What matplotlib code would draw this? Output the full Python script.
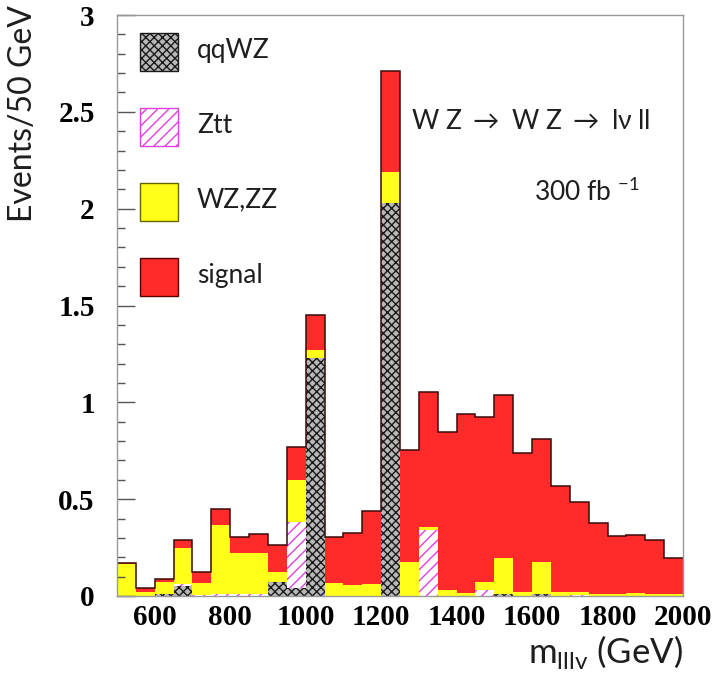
import numpy as np
import matplotlib
matplotlib.use("Agg")
import matplotlib.pyplot as plt
from matplotlib.patches import Rectangle
from matplotlib.ticker import MultipleLocator, FuncFormatter

plt.rcParams['hatch.linewidth'] = 1.0
plt.rcParams['mathtext.fontset'] = 'custom'
plt.rcParams['mathtext.rm'] = 'Lato'

# histogram binning: 50 GeV bins from 500 to 2000 GeV
bin_lo = np.arange(500, 2000, 50)
bin_w  = 50

# stacked contributions, events / 50 GeV
qqwz = [0, 0, 0.01, 0.05, 0, 0, 0, 0, 0.07, 0.04,
        1.23, 0, 0, 0, 2.03, 0, 0, 0, 0, 0,
        0.01, 0, 0.01, 0, 0, 0, 0, 0, 0, 0]
ztt = [0, 0, 0, 0.01, 0.005, 0.01, 0.01, 0.01, 0, 0.34,
       0, 0, 0, 0, 0, 0, 0.34, 0, 0, 0.03,
       0, 0, 0, 0, 0.005, 0, 0, 0, 0, 0]
wzzz = [0.165, 0.02, 0.06, 0.186, 0.06, 0.357, 0.21, 0.21, 0.055, 0.22,
        0.04, 0.065, 0.057, 0.06, 0.16, 0.177, 0.018, 0.03, 0.015, 0.044,
        0.185, 0.02, 0.167, 0.02, 0.015, 0.01, 0.01, 0.015, 0.01, 0.01]
signal = [0.005, 0.02, 0.02, 0.044, 0.06, 0.081, 0.086, 0.10, 0.138, 0.17,
          0.18, 0.241, 0.27, 0.379, 0.52, 0.577, 0.697, 0.818, 0.923, 0.852,
          0.843, 0.72, 0.632, 0.548, 0.467, 0.368, 0.30, 0.298, 0.279, 0.185]

labels = ["qqWZ", "Ztt", "WZ,ZZ", "signal"]

RED    = "#ff2a2a"
YELLOW = "#ffff1a"
PINK   = "#e040e0"
CHECK_FACE = "#b8b8b8"
CHECK_EDGE = "#1a1a1a"
TXT = "#1e1e1e"

qqwz, ztt, wzzz, signal = map(np.array, (qqwz, ztt, wzzz, signal))
edges = np.append(bin_lo, bin_lo[-1] + bin_w)

fig = plt.figure(figsize=(7.27, 6.75), dpi=100)
ax = fig.add_axes([117/727, 1 - 596/675, (683 - 117)/727, (596 - 15)/675])

# stacked bars: qqWZ, Ztt, WZ/ZZ, signal
b0 = np.zeros_like(qqwz)
ax.bar(bin_lo, qqwz, width=bin_w, bottom=b0, align="edge",
       facecolor=CHECK_FACE, edgecolor=CHECK_EDGE, hatch="xxxx", linewidth=0)
b1 = b0 + qqwz
ax.bar(bin_lo, ztt, width=bin_w, bottom=b1, align="edge",
       facecolor="white", edgecolor=PINK, hatch="///", linewidth=0)
b2 = b1 + ztt
ax.bar(bin_lo, wzzz, width=bin_w, bottom=b2, align="edge",
       color=YELLOW, linewidth=0)
b3 = b2 + wzzz
ax.bar(bin_lo, signal, width=bin_w, bottom=b3, align="edge",
       color=RED, linewidth=0)
total = b3 + signal

# outline of the full stack
ax.stairs(total, edges, color="#3a0a0a", linewidth=1.1, baseline=None)

ax.set_xlim(500, 2000)
ax.set_ylim(0, 3)

ax.yaxis.set_major_locator(MultipleLocator(0.5))
ax.yaxis.set_minor_locator(MultipleLocator(0.1))
ax.yaxis.set_major_formatter(FuncFormatter(lambda v, p: f"{v:g}"))
ax.xaxis.set_major_locator(MultipleLocator(200))
ax.tick_params(axis="y", which="major", direction="in", length=13, width=1,
               color="#555555", pad=16)
ax.tick_params(axis="y", which="minor", direction="in", length=6, width=1,
               color="#555555")
ax.tick_params(axis="x", which="major", length=0, pad=6)
for lab in ax.get_xticklabels() + ax.get_yticklabels():
    lab.set_fontfamily("Liberation Serif")
    lab.set_fontweight("bold")
    lab.set_fontsize(21)
for sp in ax.spines.values():
    sp.set_color("#999999")
    sp.set_linewidth(1)

sans = ["Lato", "DejaVu Sans"]
fig.text(23/727, 1 - 114/675, "Events/50 GeV", rotation=90, ha="center",
         va="center", fontsize=23, family=sans, color=TXT)
fig.text(683/727, 1 - 652/675, r"m$_{\mathrm{lllv}}$ (GeV)", ha="right",
         va="center", fontsize=25, family=sans, color=TXT)

# legend boxes drawn by hand
styles = [dict(facecolor=CHECK_FACE, edgecolor=CHECK_EDGE, hatch="xxxx"),
          dict(facecolor="white", edgecolor=PINK, hatch="///"),
          dict(facecolor=YELLOW, edgecolor="#666600"),
          dict(facecolor=RED, edgecolor="#550000")]
box_top = [33, 108, 183, 258]
for lab, st, yt in zip(labels, styles, box_top):
    x0 = (140 - 117) / 566 * 1500 + 500
    x1 = (178 - 117) / 566 * 1500 + 500
    y1 = (596 - yt) / 193.7
    y0 = (596 - yt - 38) / 193.7
    ax.add_patch(Rectangle((x0, y0), x1 - x0, y1 - y0, linewidth=1, **st))
    ax.text((197 - 117) / 566 * 1500 + 500, (y0 + y1) / 2 + 0.01, lab,
            ha="left", va="center", fontsize=19, family=sans, color=TXT)

ax.text(0.52, 0.816, "W Z $\\rightarrow$ W Z $\\rightarrow$ l\u03bd ll",
        transform=ax.transAxes, ha="left", va="center", fontsize=19,
        family=sans, color=TXT)
ax.text(0.736, 0.696, "300 fb $^{-1}$", transform=ax.transAxes, ha="left",
        va="center", fontsize=19, family=sans, color=TXT)

fig.savefig("out.png", dpi=100)
